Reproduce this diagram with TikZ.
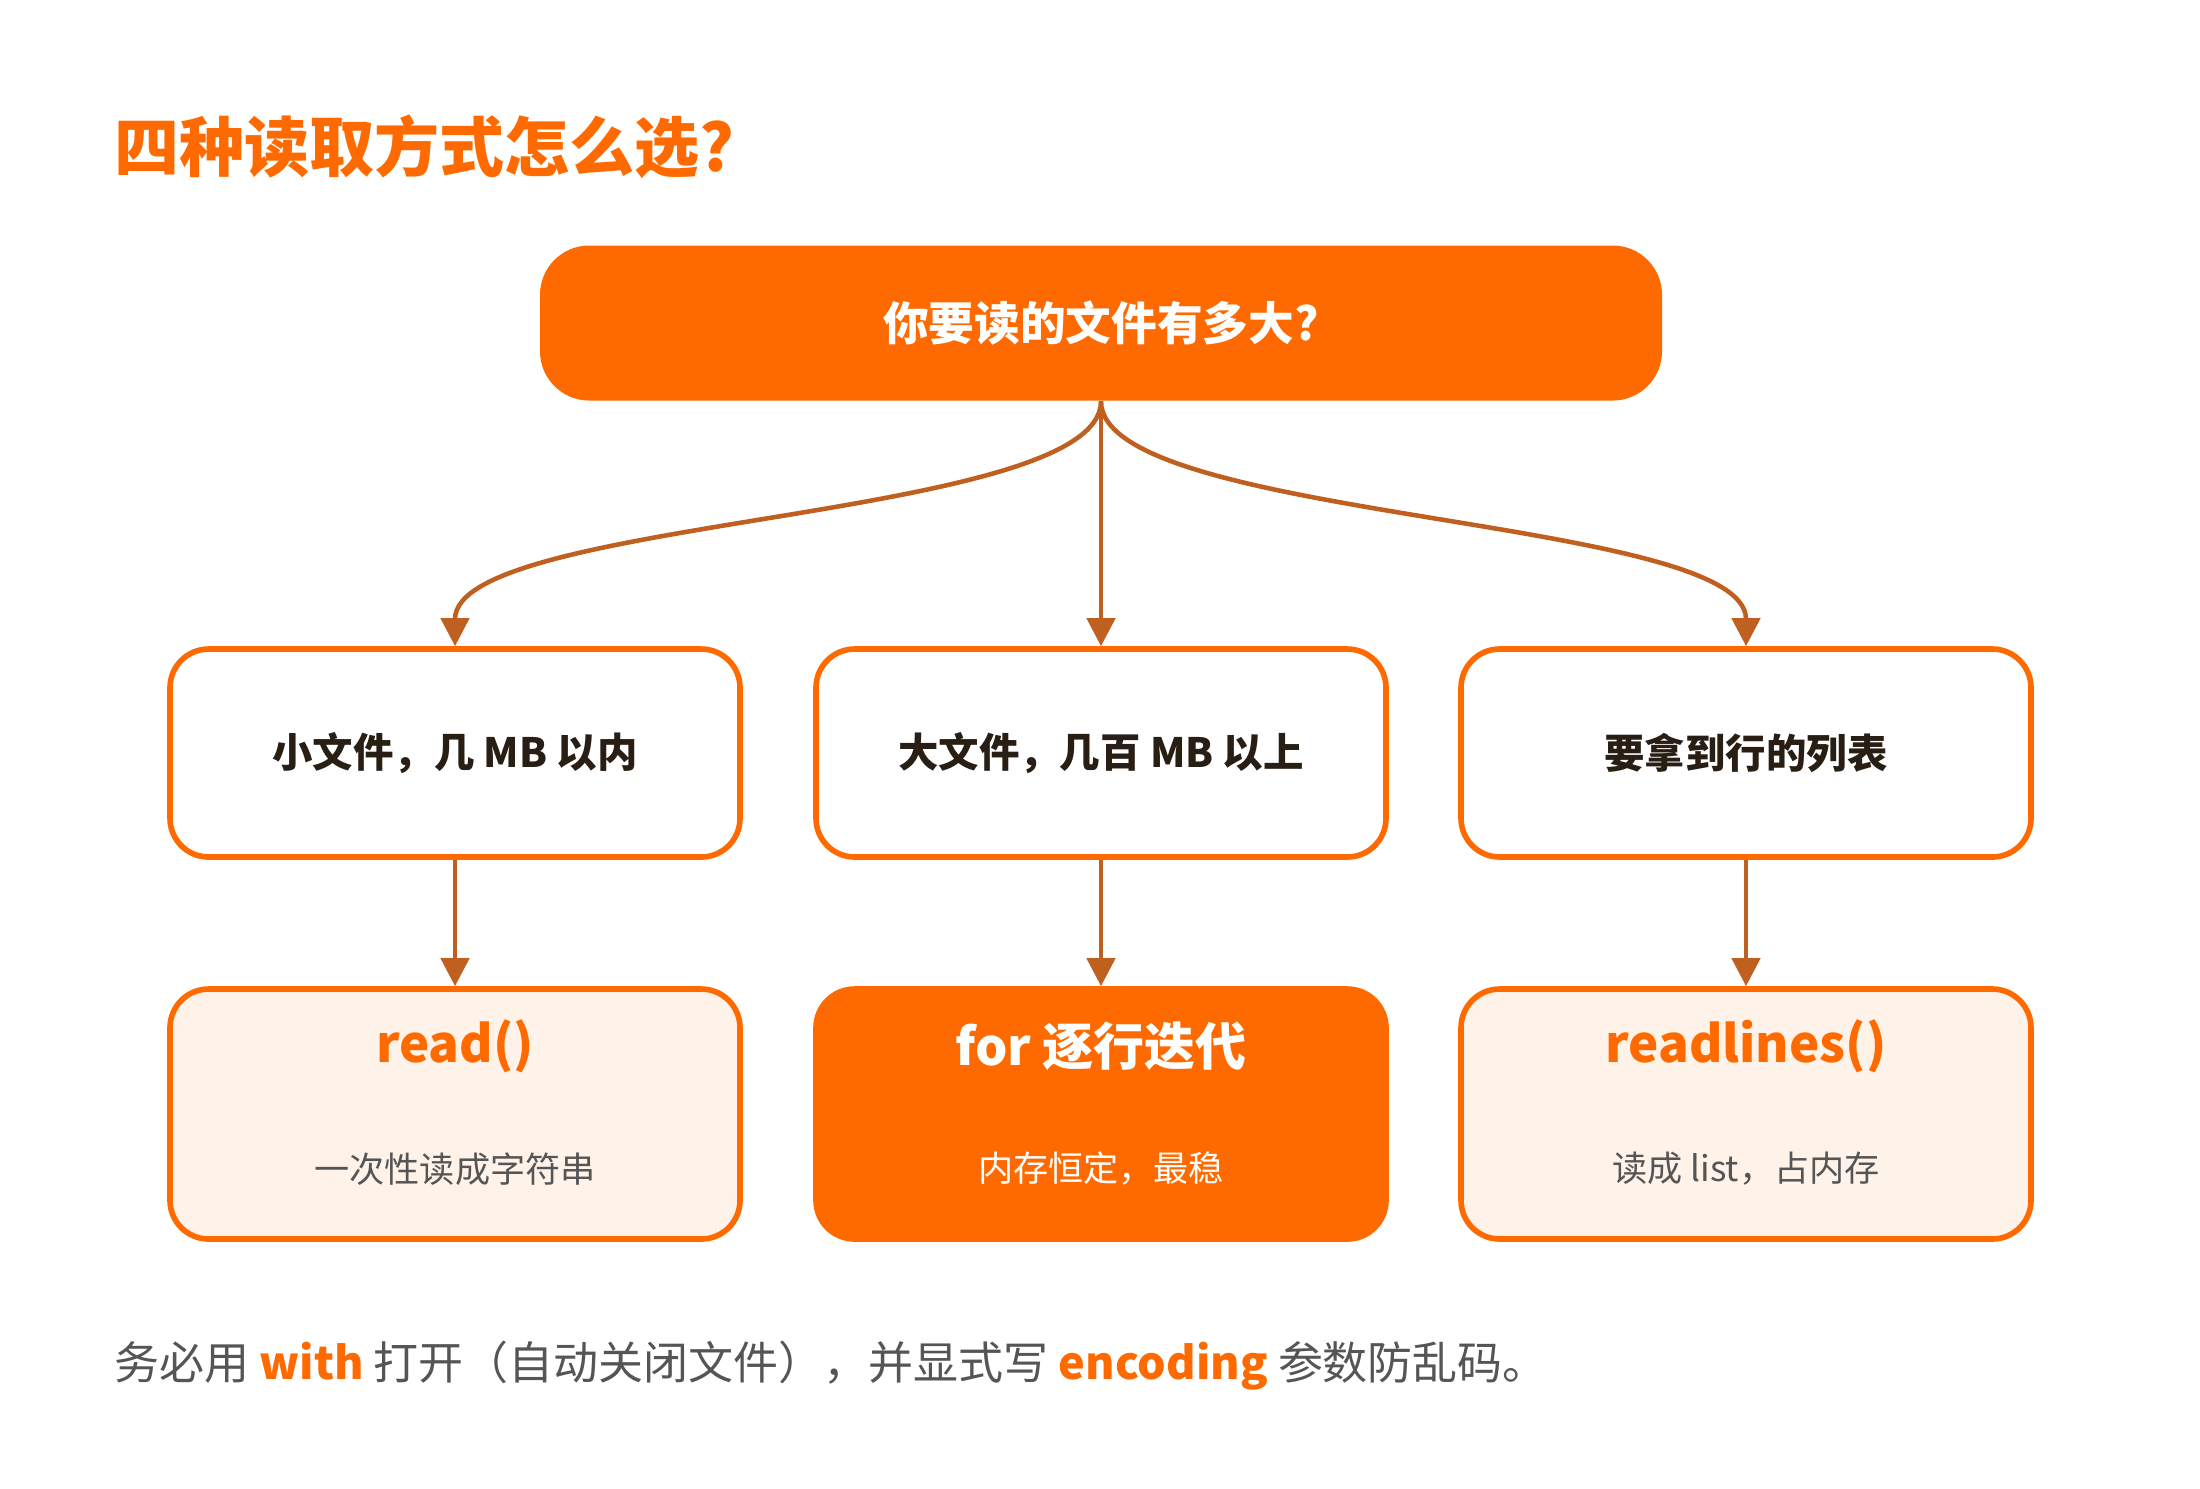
\documentclass[tikz,border=0pt]{standalone}
\usepackage{fontspec}
\setmainfont{Noto Sans CJK SC}
\usetikzlibrary{arrows.meta, positioning, calc}
\definecolor{mainorange}{RGB}{255,106,0}
\definecolor{linebrown}{RGB}{192,96,32}
\definecolor{paleorange}{RGB}{255,242,232}
\definecolor{darktext}{RGB}{40,30,20}
\definecolor{greytext}{RGB}{85,85,85}
\tikzset{
    topbox/.style={rectangle, rounded corners=14pt, fill=mainorange, text=white,
        minimum width=11.22cm, minimum height=1.55cm, font=\fontsize{13}{15}\selectfont\bfseries},
    askbox/.style={rectangle, rounded corners=11pt, draw=mainorange, line width=1.6pt, fill=white,
        minimum width=5.7cm, minimum height=2.08cm, text=darktext, font=\fontsize{11.5}{13}\selectfont\bfseries},
    pickbox/.style={rectangle, rounded corners=11pt, draw=mainorange, line width=1.6pt, fill=paleorange,
        minimum width=5.7cm, minimum height=2.5cm},
    hotbox/.style={pickbox, fill=mainorange},
    flow/.style={draw=linebrown, line width=1.3pt, -{Triangle[length=8pt,width=8pt]}}
}
\begin{document}
\begin{tikzpicture}
    \useasboundingbox (0,0) rectangle (22,-14.88);
    % Title
    \node[anchor=west, text=mainorange, font=\fontsize{18.5}{22}\selectfont\bfseries] (title) at (1.02,-1.47) {四种读取方式怎么选?};
    % Question
    \node[topbox] (size) at (11.01,-3.23) {你要读的文件有多大?};
    % Cases
    \node[askbox] (small) at (4.55,-7.53) {小文件，几 MB 以内};
    \node[askbox] (large) at (11.01,-7.53) {大文件，几百 MB 以上};
    \node[askbox] (lines) at (17.46,-7.53) {要拿到行的列表};
    % Answers
    \node[pickbox] (read) at (4.55,-11.14) {};
    \node[hotbox] (iter) at (11.01,-11.14) {};
    \node[pickbox] (rdl) at (17.46,-11.14) {};
    \node[text=mainorange, font=\fontsize{14.5}{17}\selectfont\bfseries] (readname) at ($(read.north)+(0,-0.6)$) {read()};
    \node[text=greytext, font=\fontsize{10}{12}\selectfont] (readnote) at ($(read.south)+(0,0.73)$) {一次性读成字符串};
    \node[text=white, font=\fontsize{14.5}{17}\selectfont\bfseries] (itername) at ($(iter.north)+(0,-0.6)$) {for 逐行迭代};
    \node[text=white, font=\fontsize{10}{12}\selectfont] (iternote) at ($(iter.south)+(0,0.73)$) {内存恒定，最稳};
    \node[text=mainorange, font=\fontsize{14.5}{17}\selectfont\bfseries] (rdlname) at ($(rdl.north)+(0,-0.6)$) {readlines()};
    \node[text=greytext, font=\fontsize{10}{12}\selectfont] (rdlnote) at ($(rdl.south)+(0,0.73)$) {读成 list，占内存};
    % Connectors
    \draw[flow] (size.south) .. controls +(0,-1.2) and +(0,1.3) .. (small.north);
    \draw[flow] (size.south) -- (large.north);
    \draw[flow] (size.south) .. controls +(0,-1.2) and +(0,1.3) .. (lines.north);
    \draw[flow] (small) -- (read);
    \draw[flow] (large) -- (iter);
    \draw[flow] (lines) -- (rdl);
    % Footer
    \node[anchor=west, text=greytext, font=\fontsize{12.8}{15}\selectfont] (note) at (1.02,-13.66)
        {务必用 \textcolor{mainorange}{\bfseries with} 打开（自动关闭文件），并显式写 \textcolor{mainorange}{\bfseries encoding} 参数防乱码。};
\end{tikzpicture}
\end{document}
